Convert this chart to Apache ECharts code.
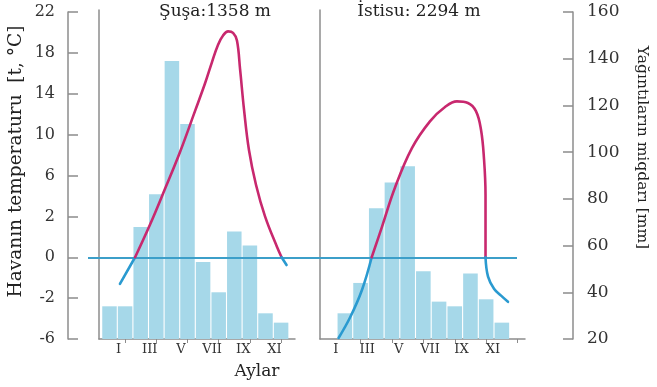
<!DOCTYPE html>
<html>
<head>
<meta charset="utf-8">
<script src="https://cdn.jsdelivr.net/npm/echarts@6/dist/echarts.min.js"></script>
<style>
html,body{margin:0;padding:0;background:#fff;}
#chart{width:657px;height:387px;}
</style>
</head>
<body>
<div id="chart"></div>
<script>
// ---- data ----
const months = ['I','II','III','IV','V','VI','VII','VIII','IX','X','XI','XII'];
const tempTicks = [-6, -2, 0, 2, 6, 10, 14, 18, 22];
const precipMin = 20, precipMax = 160, precipStep = 20;
const shushaPrecip = [34, 34, 68, 82, 139, 112, 53, 40, 66, 60, 31, 27];
const istisuPrecip = [31, 44, 76, 87, 94, 49, 36, 34, 48, 37, 27, null];
// temperature curves: [month position, °C]
const shushaTemp = [[1.67,-1.3],[2.64,0],[3.6,1.6],[4.56,4.7],[5.52,8.3],[6.48,12.3],[7.12,15.0],[7.57,17.1],[7.96,18.8],[8.28,19.7],[8.6,20.1],[8.92,19.95],[9.17,19.2],[9.37,16.4],[9.62,12.5],[9.94,8.5],[10.39,5.1],[10.97,2.0],[11.74,0.5],[12.03,0],[12.35,-0.38]];
const istisuTemp = [[0.6,-5.9],[1.33,-3.9],[2.09,-1.6],[2.71,0],[3.37,1.5],[4.19,4.8],[5.28,8.7],[6.42,11.3],[7.38,12.7],[8.14,13.25],[8.84,13.1],[9.35,12.3],[9.67,10.5],[9.86,7.7],[9.96,4.1],[9.96,1.1],[9.96,0],[10.12,-0.95],[10.5,-1.54],[10.95,-1.88],[11.39,-2.36]];
const titleLeft = 'Şuşa:1358 m';
const titleRight = 'İstisu: 2294 m';
const tempName = 'Havanın temperaturu  [t, °C]';
const precipName = 'Yağıntıların miqdarı [mm]';
const xName = 'Aylar';

// temperature axis has uneven label steps: map °C to tick-index units
function toAxis(t){
  for (let k = 0; k < tempTicks.length - 1; k++){
    if (t <= tempTicks[k+1] || k === tempTicks.length - 2){
      return k + (t - tempTicks[k]) / (tempTicks[k+1] - tempTicks[k]);
    }
  }
}
const zeroPos = toAxis(0);

// split a curve into runs above / below 0 °C (the 0 °C points are shared)
function splitBySign(pts){
  const runs = [];
  let cur = [pts[0]];
  let sign = pts[0][1] === 0 ? null : (pts[0][1] > 0 ? 1 : -1);
  for (let i = 1; i < pts.length; i++){
    const p = pts[i];
    if (p[1] === 0){
      cur.push(p);
      runs.push({sign: sign, pts: cur});
      cur = [p]; sign = null;
    } else {
      if (sign === null) sign = p[1] > 0 ? 1 : -1;
      cur.push(p);
    }
  }
  if (cur.length > 1) runs.push({sign: sign, pts: cur});
  return runs;
}

const FONT = 'DejaVu Serif';
const TXT = '#222';
const AX = '#8c8c8c';
const BAR = '#a6d8e9';
const MAG = '#c8286e';
const BLU = '#2a9ad0';
const ZERO = '#3c9fc9';

const chart = echarts.init(document.getElementById('chart'));
const gTop = 12, gBottom = 48;

const catAxis = (grid, pad) => ({
  type: 'category', gridIndex: grid, data: months, boundaryGap: true,
  axisLine: {show: false},
  axisTick: {show: true, alignWithLabel: true, length: 4, interval: (i) => i % 2 === 1, lineStyle: {color: AX}},
  axisLabel: {interval: 1, margin: 4, fontFamily: FONT, fontSize: 13, color: '#333', padding: pad},
  splitLine: {show: false}
});
const hiddenVal = (grid, min, max) => ({type: 'value', gridIndex: grid, min: min, max: max, show: false});
const frameAxis = (grid) => ({type: 'value', gridIndex: grid, min: 0, max: 1, axisLine: {show: true, onZero: false, lineStyle: {color: AX, width: 1.5}}, axisTick: {show: false}, axisLabel: {show: false}, splitLine: {show: false}});

const curveSeries = [];
[[shushaTemp, 1, 0], [istisuTemp, 3, 2]].forEach(([curve, xi, yi]) => {
  splitBySign(curve).forEach(run => {
    curveSeries.push({
      type: 'line', xAxisIndex: xi, yAxisIndex: yi,
      data: run.pts.map(p => [p[0], toAxis(p[1])]),
      smooth: 0.4, showSymbol: false, symbol: 'none',
      lineStyle: {width: 2.6, color: run.sign > 0 ? MAG : BLU, cap: 'round'},
      z: 5
    });
  });
});

const option = {
  backgroundColor: '#fff',
  animation: false,
  grid: [
    {left: 101.7, width: 187.2, top: gTop, bottom: gBottom},
    {left: 337, width: 188.4, top: gTop, bottom: gBottom},
    {left: 88, width: 429, top: gTop, bottom: gBottom},
    {left: 99, width: 196, top: 10, bottom: gBottom},
    {left: 320, width: 205, top: 10, bottom: gBottom}
  ],
  xAxis: [
    catAxis(0, [0, 0, 0, 18]),
    hiddenVal(0, 0.5, 12.5),
    catAxis(1, [0, 18, 0, 0]),
    hiddenVal(1, 0.5, 12.5),
    hiddenVal(2, 0, 1),
    frameAxis(3),
    frameAxis(4)
  ],
  yAxis: [
    {
      type: 'value', gridIndex: 0, position: 'left', offset: 33.7,
      min: 0, max: tempTicks.length - 1, interval: 1,
      name: tempName, nameLocation: 'middle', nameRotate: 90, nameGap: 42,
      nameTextStyle: {fontFamily: FONT, fontSize: 18.5, color: TXT, padding: [0, 0, 0, 28]},
      axisLine: {show: true, lineStyle: {color: AX, width: 1.5}},
      axisTick: {show: true, inside: true, length: 10, lineStyle: {color: AX, width: 1.5}},
      axisLabel: {margin: 13, fontFamily: FONT, fontSize: 16, color: '#333', formatter: (v) => String(tempTicks[Math.round(v)])},
      splitLine: {show: false}
    },
    hiddenVal(0, precipMin, precipMax),
    hiddenVal(1, 0, tempTicks.length - 1),
    {
      type: 'value', gridIndex: 1, position: 'right', offset: 47.6,
      min: precipMin, max: precipMax, interval: precipStep,
      name: precipName, nameLocation: 'middle', nameRotate: -90, nameGap: 61,
      nameTextStyle: {fontFamily: FONT, fontSize: 15.5, color: TXT, padding: [0, 56, 0, 0]},
      axisLine: {show: true, lineStyle: {color: AX, width: 1.5}},
      axisTick: {show: true, inside: true, length: 10, lineStyle: {color: AX, width: 1.5}},
      axisLabel: {margin: 14, fontFamily: FONT, fontSize: 17, color: '#333'},
      splitLine: {show: false}
    },
    hiddenVal(2, 0, tempTicks.length - 1),
    frameAxis(3),
    frameAxis(4)
  ],
  series: [
    {type: 'bar', xAxisIndex: 0, yAxisIndex: 1, data: shushaPrecip, barCategoryGap: '7%', itemStyle: {color: BAR}, z: 2},
    {type: 'bar', xAxisIndex: 2, yAxisIndex: 3, data: istisuPrecip, barCategoryGap: '7%', itemStyle: {color: BAR}, z: 2},
    {type: 'line', xAxisIndex: 4, yAxisIndex: 4, data: [], z: 4,
      markLine: {symbol: 'none', silent: true, label: {show: false}, lineStyle: {color: ZERO, width: 2, type: 'solid'}, data: [{yAxis: zeroPos}]}}
  ].concat(curveSeries),
  graphic: [
    {type: 'text', x: 215, y: 12, style: {text: titleLeft, font: '17px "DejaVu Serif"', fill: TXT, align: 'center', verticalAlign: 'middle', textAlign: 'center', textVerticalAlign: 'middle'}},
    {type: 'text', x: 419, y: 12, style: {text: titleRight, font: '17px "DejaVu Serif"', fill: TXT, align: 'center', verticalAlign: 'middle', textAlign: 'center', textVerticalAlign: 'middle'}},
    {type: 'text', x: 257, y: 372, style: {text: xName, font: '17px "DejaVu Serif"', fill: TXT, align: 'center', verticalAlign: 'middle', textAlign: 'center', textVerticalAlign: 'middle'}}
  ]
};
chart.setOption(option);
</script>
</body>
</html>
